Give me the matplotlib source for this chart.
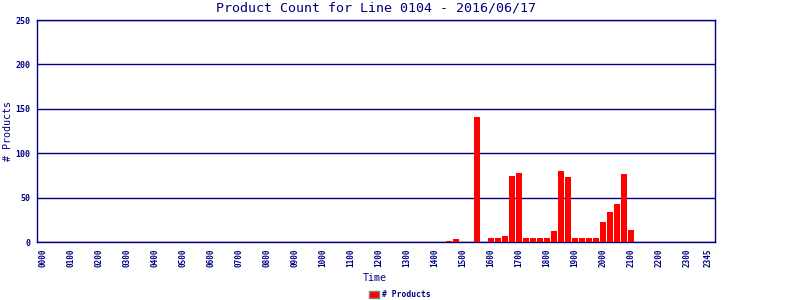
import numpy as np
import matplotlib.pyplot as plt
from matplotlib.patches import Patch

NAVY = "#000080"

# 15-minute slots over the day
slots = ["%02d%02d" % (h, m) for h in range(24) for m in (0, 15, 30, 45)]

# non-empty slots
active_times = ["1430", "1445", "1530", "1600", "1615", "1630", "1645", "1700",
                "1715", "1730", "1745", "1800", "1815", "1830", "1845",
                "1900", "1915", "1930", "1945", "2000", "2015", "2030", "2045", "2100"]
active_counts = [1, 3, 141, 4, 4, 7, 74, 78,
                 4, 4, 4, 4, 12, 80, 73,
                 4, 4, 4, 4, 23, 34, 43, 77, 13]

counts = np.zeros(len(slots))
for t, c in zip(active_times, active_counts):
    counts[slots.index(t)] = c

tick_labels = [s for s in slots if s.endswith("00")] + ["2345"]
tick_pos = [slots.index(s) for s in tick_labels]

plt.rcParams["font.family"] = "DejaVu Sans Mono"

fig = plt.figure(figsize=(8, 3), dpi=100)
ax = fig.add_axes([0.04625, 0.1933, 0.8475, 0.74])

x = np.arange(len(slots))
ax.bar(x, counts, width=0.86, color="#ff0000", zorder=3)

ax.set_xlim(-0.86, 96)
ax.set_ylim(0, 250)
ax.set_yticks([0, 50, 100, 150, 200, 250])
ax.set_xticks(tick_pos)
ax.set_xticklabels(tick_labels, rotation=90, fontsize=5.5, color=NAVY,
                   fontweight="bold")
for lab in ax.get_yticklabels():
    lab.set_fontweight("bold")
ax.tick_params(axis="y", labelsize=6, colors=NAVY, length=0, pad=5)
ax.tick_params(axis="x", colors=NAVY, length=0, pad=5)

ax.yaxis.grid(True, color=NAVY, linewidth=1, zorder=1)
for sp in ax.spines.values():
    sp.set_color(NAVY)
    sp.set_linewidth(1)

fig.text(0.47, 0.973, "Product Count for Line 0104 - 2016/06/17",
         ha="center", va="center", fontsize=9.6, color=NAVY)
fig.text(0.469, 0.073, "Time", ha="center", va="center", fontsize=7.2, color=NAVY)
fig.text(0.01, 0.563, "# Products", ha="center", va="center", rotation=90,
         fontsize=7.2, color=NAVY)

handle = Patch(facecolor="#ff0000", edgecolor="#808080", label="# Products")
fig.legend(handles=[handle], loc="center", bbox_to_anchor=(0.5, 0.017),
           frameon=False, prop={"size": 5.8, "weight": "bold"}, labelcolor=NAVY,
           handlelength=1.3, handleheight=1.0, handletextpad=0.4,
           borderpad=0)

fig.savefig("out.png", dpi=100)
